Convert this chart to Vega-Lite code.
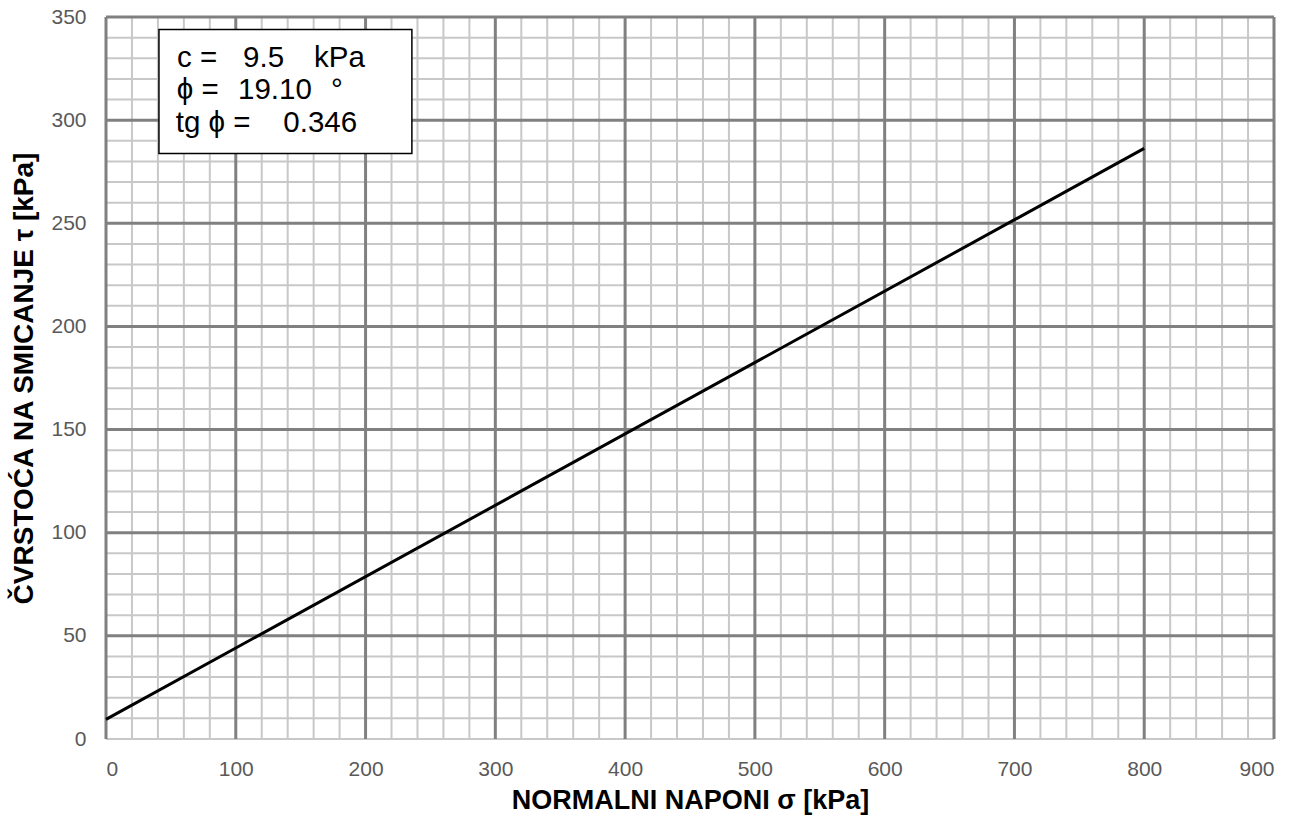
{
  "$schema": "https://vega.github.io/schema/vega-lite/v6.json",
  "width": 1168,
  "height": 722,
  "autosize": {"type": "none"},
  "padding": {"left": 106, "top": 17, "right": 24, "bottom": 83},
  "background": "white",
  "config": {"view": {"stroke": null}, "font": "Liberation Sans"},
  "datasets": {
    "line": [{"sigma": 0, "tau": 9.5}, {"sigma": 800, "tau": 286.3}],
    "xminor": [{"v": 20}, {"v": 40}, {"v": 60}, {"v": 80}, {"v": 120}, {"v": 140}, {"v": 160}, {"v": 180}, {"v": 220}, {"v": 240}, {"v": 260}, {"v": 280}, {"v": 320}, {"v": 340}, {"v": 360}, {"v": 380}, {"v": 420}, {"v": 440}, {"v": 460}, {"v": 480}, {"v": 520}, {"v": 540}, {"v": 560}, {"v": 580}, {"v": 620}, {"v": 640}, {"v": 660}, {"v": 680}, {"v": 720}, {"v": 740}, {"v": 760}, {"v": 780}, {"v": 820}, {"v": 840}, {"v": 860}, {"v": 880}],
    "xmajor": [{"v": 0}, {"v": 100}, {"v": 200}, {"v": 300}, {"v": 400}, {"v": 500}, {"v": 600}, {"v": 700}, {"v": 800}, {"v": 900}],
    "yminor": [{"v": 0}, {"v": 10}, {"v": 20}, {"v": 30}, {"v": 40}, {"v": 60}, {"v": 70}, {"v": 80}, {"v": 90}, {"v": 110}, {"v": 120}, {"v": 130}, {"v": 140}, {"v": 160}, {"v": 170}, {"v": 180}, {"v": 190}, {"v": 210}, {"v": 220}, {"v": 230}, {"v": 240}, {"v": 260}, {"v": 270}, {"v": 280}, {"v": 290}, {"v": 310}, {"v": 320}, {"v": 330}, {"v": 340}],
    "ymajor": [{"v": 50}, {"v": 100}, {"v": 150}, {"v": 200}, {"v": 250}, {"v": 300}, {"v": 350}],
    "boxtext": [
      {"t": "c =", "px": 54.7, "py": 325.6},
      {"t": "9.5", "px": 105.6, "py": 325.6},
      {"t": "kPa", "px": 160.3, "py": 325.6},
      {"t": "ϕ =", "px": 54.5, "py": 310.3},
      {"t": "19.10", "px": 101.7, "py": 310.3},
      {"t": "°", "px": 173.4, "py": 310.3},
      {"t": "tg ϕ =", "px": 53.7, "py": 294.3},
      {"t": "0.346", "px": 136.6, "py": 294.3}
    ]
  },
  "layer": [
    {
      "data": {"name": "xminor"},
      "mark": {"type": "rule", "color": "#c8c8c8", "strokeWidth": 2},
      "encoding": {
        "x": {"field": "v", "type": "quantitative", "scale": {"domain": [0, 900], "nice": false},
          "axis": {"values": [0, 100, 200, 300, 400, 500, 600, 700, 800, 900], "grid": false, "ticks": false, "domain": false, "labelFontSize": 21, "labelColor": "#595959", "labelPadding": 19, "title": "NORMALNI NAPONI  σ [kPa]", "titleFontSize": 27, "titleFontWeight": "bold", "titleColor": "#000000", "titlePadding": 8}}
      }
    },
    {
      "data": {"name": "yminor"},
      "mark": {"type": "rule", "color": "#c8c8c8", "strokeWidth": 2},
      "encoding": {
        "y": {"field": "v", "type": "quantitative", "scale": {"domain": [0, 350], "nice": false},
          "axis": {"values": [0, 50, 100, 150, 200, 250, 300, 350], "grid": false, "ticks": false, "domain": false, "labelFontSize": 21, "labelColor": "#595959", "labelPadding": 20, "title": "ČVRSTOĆA NA SMICANJE τ [kPa]", "titleFontSize": 28, "titleFontWeight": "bold", "titleColor": "#000000", "titlePadding": 12}}
      }
    },
    {
      "data": {"name": "xmajor"},
      "mark": {"type": "rule", "color": "#808080", "strokeWidth": 3},
      "encoding": {"x": {"field": "v", "type": "quantitative"}}
    },
    {
      "data": {"name": "ymajor"},
      "mark": {"type": "rule", "color": "#808080", "strokeWidth": 3},
      "encoding": {"y": {"field": "v", "type": "quantitative"}}
    },
    {
      "data": {"name": "line"},
      "mark": {"type": "line", "color": "#000000", "strokeWidth": 3},
      "encoding": {
        "x": {"field": "sigma", "type": "quantitative"},
        "y": {"field": "tau", "type": "quantitative"}
      }
    },
    {
      "data": {"values": [{}]},
      "mark": {"type": "rect", "fill": "white", "stroke": "#000000", "strokeWidth": 1.5},
      "encoding": {
        "x": {"datum": 40.8, "type": "quantitative"},
        "x2": {"datum": 235.7},
        "y": {"datum": 343.9, "type": "quantitative"},
        "y2": {"datum": 283.8}
      }
    },
    {
      "data": {"name": "boxtext"},
      "mark": {"type": "text", "align": "left", "baseline": "alphabetic", "fontSize": 29.5, "color": "#000000"},
      "encoding": {
        "x": {"field": "px", "type": "quantitative"},
        "y": {"field": "py", "type": "quantitative"},
        "text": {"field": "t"}
      }
    }
  ]
}
